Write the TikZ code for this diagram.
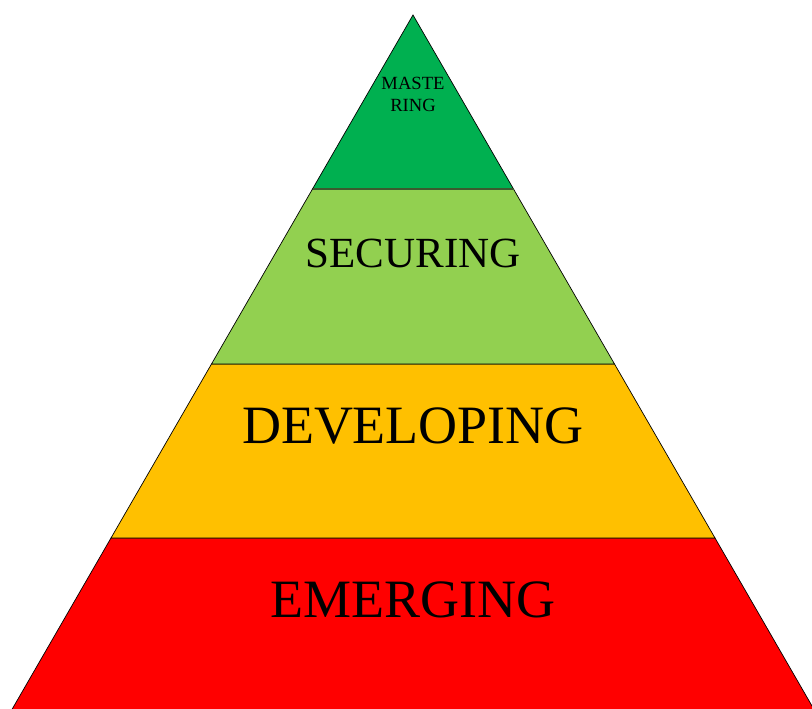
\documentclass[tikz,border=0pt]{standalone}
\usepackage{fontspec}
\setmainfont{Liberation Serif}
\usetikzlibrary{positioning}
\definecolor{mastgreen}{HTML}{00B050}
\definecolor{secgreen}{HTML}{92D050}
\definecolor{devamber}{HTML}{FFC000}
\definecolor{emred}{HTML}{FF0000}
\definecolor{darkedge}{HTML}{3B5A2E}

\begin{document}
\begin{tikzpicture}[x=1pt,y=-1pt,
		level/.style={draw=black, line width=0.7pt, line join=miter},
		lbl/.style={inner sep=0pt, anchor=base, text=black}]
		\useasboundingbox (0,0) rectangle (812,709);
		% corners of the bands
		\coordinate (apex) at (413,15);
		\coordinate (m1) at (312.5,189);  \coordinate (m2) at (513.5,189);
		\coordinate (s1) at (211.5,364);  \coordinate (s2) at (614.5,364);
		\coordinate (d1) at (111,538);    \coordinate (d2) at (715,538);
		\coordinate (e1) at (10.5,712);   \coordinate (e2) at (815.5,712);
		
		\filldraw[level, fill=emred] (d1) -- (d2) -- (e2) -- (e1) -- cycle;
		\filldraw[level, fill=devamber] (s1) -- (s2) -- (d2) -- (d1) -- cycle;
		\filldraw[level, fill=secgreen] (m1) -- (m2) -- (s2) -- (s1) -- cycle;
		\filldraw[level, fill=mastgreen] (apex) -- (m2) -- (m1) -- cycle;
		\draw[darkedge, line width=2pt] (m1) -- (m2);
		
		\node[lbl, align=center, font=\fontsize{18.6}{22}\selectfont] (mast) at (413,112) {MASTE\\RING};
		\node[lbl, font=\fontsize{43}{50}\selectfont] (sec) at (413,267) {SECURING};
		\node[lbl, font=\fontsize{54}{62}\selectfont] (dev) at (413,443) {DEVELOPING};
		\node[lbl, font=\fontsize{54}{62}\selectfont] (em) at (413,617) {EMERGING};
	\end{tikzpicture}
\end{document}
